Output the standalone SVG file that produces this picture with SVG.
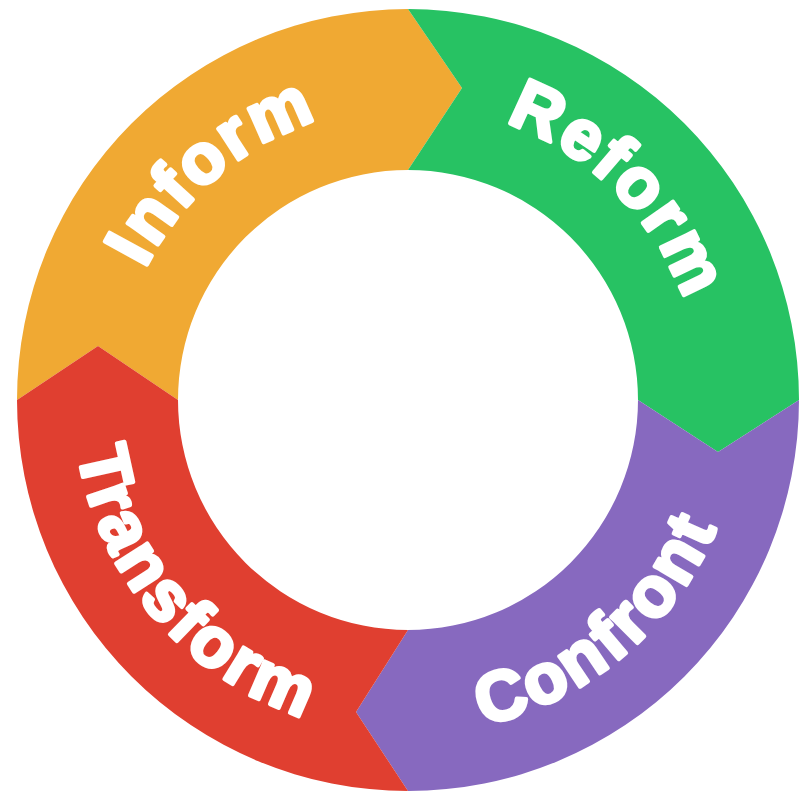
<svg xmlns="http://www.w3.org/2000/svg" width="800" height="800" viewBox="0 0 800 800">
<style>
.lbl{font-family:"Liberation Sans",Arial,sans-serif;font-weight:900;font-size:70px;fill:#fff;stroke:#fff;stroke-width:4px;stroke-linejoin:round;letter-spacing:3px;text-anchor:middle}
</style>
<defs>
<path id="pInform" d="M114,400 A294,294 0 0 1 408,106"/>
<path id="pReform" d="M408,106 A294,294 0 0 1 702,400"/>
<path id="pConfront" d="M408,734 A334,334 0 0 0 742,400"/>
<path id="pTransform" d="M74,400 A334,334 0 0 0 408,734"/>
</defs>
<rect width="800" height="800" fill="#fff"/>
<g id="inform">
<path fill="#F0A933" d="M17,400 A391,391 0 0 1 408,9 L462,88 L408,170 A230,230 0 0 0 178,400 L98,346 Z"/>
<text class="lbl"><textPath href="#pInform" startOffset="55%">Inform</textPath></text>
</g>
<g id="reform">
<path fill="#27C263" d="M408,9 A391,391 0 0 1 799,400 L718,452 L638,400 A230,230 0 0 0 408,170 L462,88 Z"/>
<text class="lbl"><textPath href="#pReform" startOffset="50%">Reform</textPath></text>
</g>
<g id="confront">
<path fill="#8769BF" d="M799,400 A391,391 0 0 1 408,791 L356,712 L408,630 A230,230 0 0 0 638,400 L718,452 Z"/>
<text class="lbl"><textPath href="#pConfront" startOffset="45%">Confront</textPath></text>
</g>
<g id="transform">
<path fill="#E03F30" d="M408,791 A391,391 0 0 1 17,400 L98,346 L178,400 A230,230 0 0 0 408,630 L356,712 Z"/>
<text class="lbl"><textPath href="#pTransform" startOffset="45%">Transform</textPath></text>
</g>
<g id="connectors"/>
</svg>
